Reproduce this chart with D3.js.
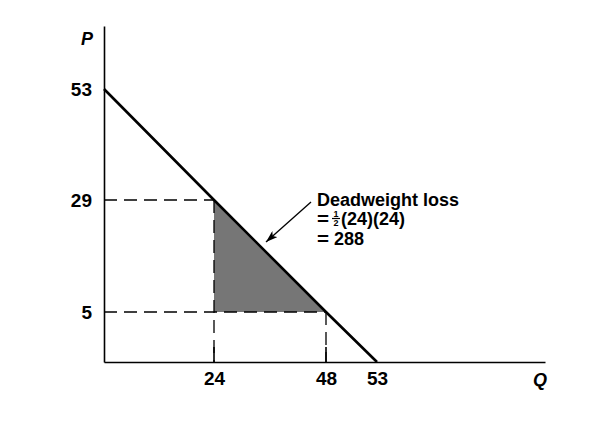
<!DOCTYPE html>
<html>
<head>
<meta charset="utf-8">
<script src="https://cdn.jsdelivr.net/npm/d3@7"></script>
<style>
  html, body { margin: 0; padding: 0; background: #fff; }
  text { font-family: "Liberation Sans", Arial, Helvetica, sans-serif; font-weight: bold; fill: #000; }
</style>
</head>
<body>
<svg id="chart" width="606" height="432"></svg>
<script>
// ---- data ----
const qTicks = [24, 48, 53];          // quantity tick labels
const qTickMarks = [24, 48];          // quantity tick marks
const pTicks = [5, 29, 53];           // price tick labels
const demandQ = [0, 24, 48, 53];      // demand curve quantities
const demandP = [53, 29, 5, 0];       // demand curve prices
const dwlQ = [24, 24, 48];            // deadweight-loss triangle
const dwlP = [29, 5, 5];
const dashQ = [24, 48];               // dashed guide points
const dashP = [29, 5];
const annotationTitle = "Deadweight loss";
const annotationFormula = "(24)(24)";
const annotationResult = "288";

// ---- scales (schematic, piecewise linear) ----
const x = d3.scaleLinear().domain([0, 24, 48, 53, 88]).range([104, 214, 326, 377, 545]);
const y = d3.scaleLinear().domain([0, 5, 29, 53, 60]).range([362, 312, 200, 89, 26]);

const svg = d3.select("#chart");
const FONT = "Liberation Sans, Arial, sans-serif";

// shaded triangle
svg.append("path")
  .attr("d", d3.line()(dwlQ.map((q, i) => [x(q), y(dwlP[i])])) + "Z")
  .attr("fill", "#767676").attr("stroke", "none");

// dashed guides
const dashStyle = sel => sel.attr("stroke", "#000").attr("stroke-width", 1.3)
  .attr("stroke-dasharray", "13,7").attr("fill", "none");
dashQ.forEach((q, i) => {
  const p = dashP[i];
  svg.append("line").attr("x1", x(0)).attr("x2", x(q)).attr("y1", y(p)).attr("y2", y(p)).call(dashStyle);
  svg.append("line").attr("x1", x(q)).attr("x2", x(q)).attr("y1", y(p)).attr("y2", y(0)).call(dashStyle);
});

// x axis
const xAxis = svg.append("g").attr("transform", `translate(0,${y(0)})`)
  .call(d3.axisBottom(x).tickValues(qTicks).tickSize(0).tickSizeOuter(0).tickPadding(10));
xAxis.select(".domain").attr("stroke", "#000").attr("stroke-width", 1.6);
xAxis.selectAll(".tick text").attr("font-size", 19).attr("font-family", FONT)
  .attr("font-weight", "bold").attr("fill", "#000");
svg.selectAll(".qmark").data(qTickMarks).join("line").attr("class", "qmark")
  .attr("x1", d => x(d)).attr("x2", d => x(d)).attr("y1", y(0) - 15).attr("y2", y(0))
  .attr("stroke", "#000").attr("stroke-width", 1.6);

// y axis
const yAxis = svg.append("g").attr("transform", `translate(${x(0)},0)`)
  .call(d3.axisLeft(y).tickValues(pTicks).tickSize(0).tickSizeOuter(0).tickPadding(12));
yAxis.select(".domain").attr("stroke", "#000").attr("stroke-width", 1.6);
yAxis.selectAll(".tick text").attr("font-size", 19).attr("font-family", FONT)
  .attr("font-weight", "bold").attr("fill", "#000");

// axis titles
svg.append("text").attr("x", 87).attr("y", 45).attr("text-anchor", "middle")
  .attr("font-size", 18).attr("font-style", "italic").text("P");
svg.append("text").attr("x", 540).attr("y", 386).attr("text-anchor", "middle")
  .attr("font-size", 18).attr("font-style", "italic").text("Q");

// demand curve
svg.append("path")
  .attr("d", d3.line()(demandQ.map((q, i) => [x(q), y(demandP[i])])))
  .attr("stroke", "#000").attr("stroke-width", 2.6).attr("fill", "none");

// arrow
svg.append("defs").append("marker").attr("id", "ah")
  .attr("viewBox", "0 0 12 8").attr("refX", 12).attr("refY", 4)
  .attr("markerWidth", 12).attr("markerHeight", 8).attr("markerUnits", "userSpaceOnUse")
  .attr("orient", "auto")
  .append("path").attr("d", "M0,0 L12,4 L0,8 L3,4 Z").attr("fill", "#000");
svg.append("line").attr("x1", 311).attr("y1", 202).attr("x2", 266).attr("y2", 242)
  .attr("stroke", "#000").attr("stroke-width", 1.4).attr("marker-end", "url(#ah)");

// annotation text
const ax = 317;
svg.append("text").attr("x", ax).attr("y", 206).attr("font-size", 18).text(annotationTitle);
svg.append("text").attr("x", ax).attr("y", 225).attr("font-size", 18)
  .attr("textLength", 12).attr("lengthAdjust", "spacingAndGlyphs").text("=");
// fraction 1/2
svg.append("text").attr("x", 336).attr("y", 217).attr("font-size", 9).attr("text-anchor", "middle").text("1");
svg.append("line").attr("x1", 332).attr("x2", 340).attr("y1", 218.5).attr("y2", 218.5)
  .attr("stroke", "#000").attr("stroke-width", 1.2);
svg.append("text").attr("x", 336).attr("y", 226).attr("font-size", 9).attr("text-anchor", "middle").text("2");
svg.append("text").attr("x", 341).attr("y", 225).attr("font-size", 18).text(annotationFormula);
svg.append("text").attr("x", ax).attr("y", 245).attr("font-size", 18)
  .attr("textLength", 12).attr("lengthAdjust", "spacingAndGlyphs").text("=");
svg.append("text").attr("x", 334).attr("y", 245).attr("font-size", 18).text(annotationResult);
</script>
</body>
</html>
